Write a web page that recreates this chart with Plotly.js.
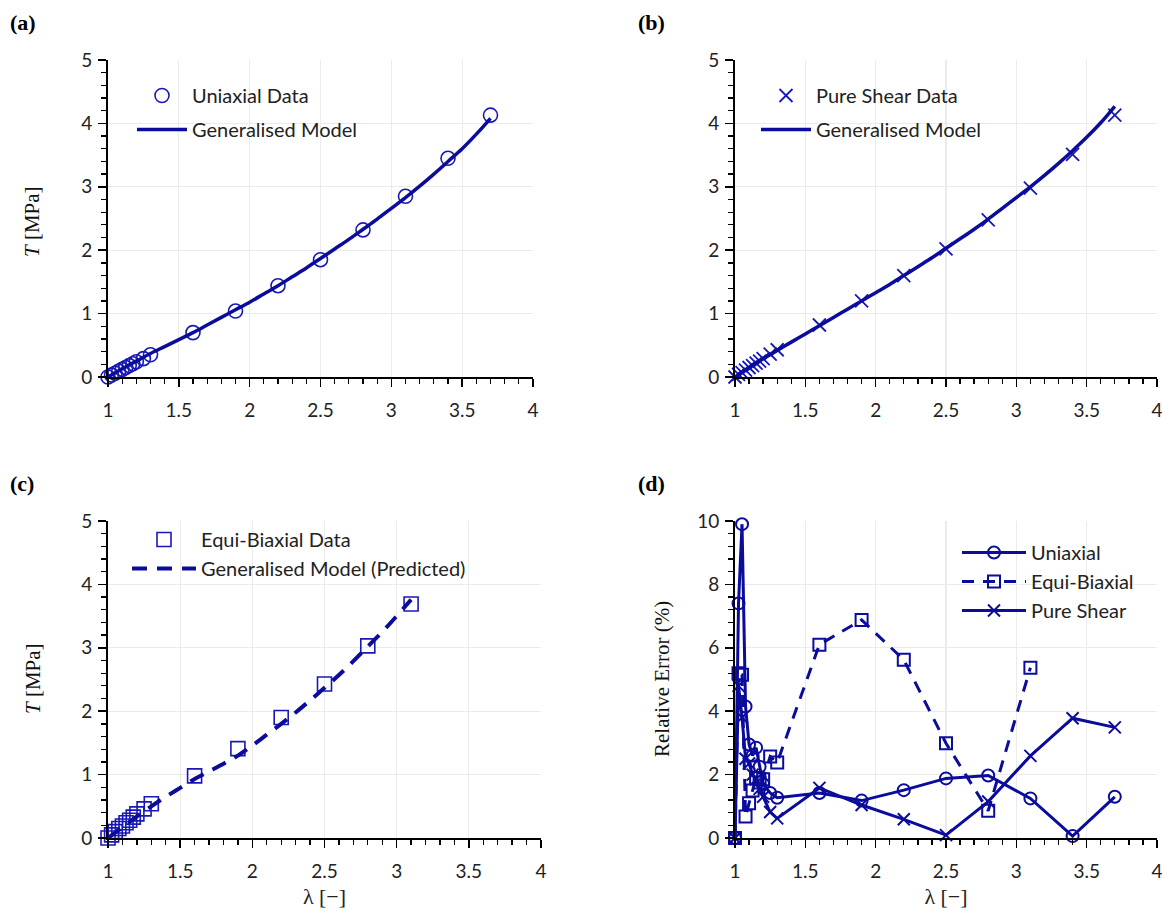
<!DOCTYPE html>
<html>
<head>
<meta charset="utf-8">
<script src="https://cdn.plot.ly/plotly-3.0.1.min.js"></script>
<style>html,body{margin:0;padding:0;background:#fff;}#chart{width:1162px;height:911px;}</style>
</head>
<body>
<div id="chart"></div>
<script>
// ---------- data ----------
const lamUS = [1, 1.025, 1.05, 1.075, 1.1, 1.125, 1.15, 1.175, 1.2, 1.25, 1.3, 1.6, 1.9, 2.2, 2.5, 2.8, 3.1, 3.4, 3.7];
const lamEB = [1, 1.025, 1.05, 1.075, 1.1, 1.125, 1.15, 1.175, 1.2, 1.25, 1.3, 1.6, 1.9, 2.2, 2.5, 2.8, 3.1];

const uniaxialData   = [0, 0.03, 0.06, 0.09, 0.12, 0.15, 0.18, 0.21, 0.24, 0.29, 0.35, 0.70, 1.04, 1.44, 1.85, 2.32, 2.85, 3.45, 4.13];
const pureShearData  = [0, 0.04, 0.07, 0.11, 0.15, 0.18, 0.22, 0.25, 0.29, 0.36, 0.43, 0.82, 1.20, 1.60, 2.02, 2.48, 2.98, 3.51, 4.13];
const biaxialData    = [0, 0.05, 0.10, 0.15, 0.19, 0.24, 0.28, 0.33, 0.38, 0.46, 0.54, 0.98, 1.41, 1.90, 2.43, 3.03, 3.69];

const lamModelUS = [1, 1.1, 1.2, 1.3, 1.4, 1.5, 1.6, 1.7, 1.8, 1.9, 2.0, 2.1, 2.2, 2.3, 2.4, 2.5, 2.6, 2.7, 2.8, 2.9, 3.0, 3.1, 3.2, 3.3, 3.4, 3.5, 3.6, 3.7];
const uniaxialModel  = [0, 0.13, 0.25, 0.37, 0.48, 0.59, 0.70, 0.82, 0.94, 1.06, 1.18, 1.31, 1.44, 1.58, 1.72, 1.87, 2.02, 2.17, 2.33, 2.49, 2.66, 2.83, 3.01, 3.20, 3.40, 3.60, 3.83, 4.08];
const pureShearModel = [0, 0.15, 0.29, 0.42, 0.55, 0.68, 0.81, 0.94, 1.07, 1.20, 1.33, 1.46, 1.60, 1.74, 1.88, 2.03, 2.18, 2.33, 2.49, 2.66, 2.83, 3.00, 3.18, 3.37, 3.57, 3.78, 4.01, 4.27];
const lamModelEB = [1, 1.1, 1.2, 1.3, 1.4, 1.5, 1.6, 1.7, 1.8, 1.9, 2.0, 2.1, 2.2, 2.3, 2.4, 2.5, 2.6, 2.7, 2.8, 2.9, 3.0, 3.1];
const biaxialModel   = [0, 0.17, 0.34, 0.50, 0.65, 0.79, 0.93, 1.05, 1.17, 1.30, 1.46, 1.63, 1.80, 1.98, 2.17, 2.37, 2.57, 2.79, 3.02, 3.25, 3.50, 3.76];

const errUniaxial  = [0, 7.4, 9.9, 4.15, 2.95, 2.6, 2.85, 2.25, 1.7, 1.42, 1.27, 1.42, 1.18, 1.51, 1.88, 1.97, 1.25, 0.06, 1.3];
const errBiaxial   = [0, 5.2, 5.15, 0.68, 1.1, 1.5, 1.9, 1.75, 1.85, 2.57, 2.38, 6.1, 6.88, 5.62, 2.99, 0.86, 5.37];
const errPureShear = [0, 4.8, 3.8, 2.5, 2.35, 2.0, 1.85, 1.55, 1.3, 0.82, 0.62, 1.58, 1.04, 0.59, 0.09, 1.15, 2.59, 3.78, 3.49];

const xTicks = [1, 1.5, 2, 2.5, 3, 3.5, 4];
const panelLabels = ['(a)', '(b)', '(c)', '(d)'];

// ---------- style ----------
const W = 1162, H = 911;
const LINE = '#0b0b9c';
const MARK = '#1818b8';
const TICKFONT = {family: 'Lato, "Open Sans", sans-serif', size: 19, color: '#222'};
const LEGFONT = {family: 'Lato, "Open Sans", sans-serif', size: 20, color: '#222'};
const SERIF = 'Liberation Serif, "DejaVu Serif", serif';

const px = v => v / W;
const py = v => 1 - v / H;

const traces = [
  {x: lamUS, y: uniaxialData, type: 'scatter', mode: 'markers', name: 'Uniaxial Data', xaxis: 'x', yaxis: 'y', legend: 'legend', legendgroup: 'a1',
   marker: {symbol: 'circle-open', size: 14, color: MARK, line: {width: 1.6, color: MARK}}},
  {x: lamModelUS, y: uniaxialModel, type: 'scatter', mode: 'lines', name: 'Generalised Model', xaxis: 'x', yaxis: 'y', legend: 'legend', legendgroup: 'a2',
   line: {color: LINE, width: 3.5, shape: 'spline'}},
  {x: lamUS, y: pureShearData, type: 'scatter', mode: 'markers', name: 'Pure Shear Data', xaxis: 'x2', yaxis: 'y2', legend: 'legend2', legendgroup: 'b1',
   marker: {symbol: 'x-thin-open', size: 13, color: MARK, line: {width: 1.8, color: MARK}}},
  {x: lamModelUS, y: pureShearModel, type: 'scatter', mode: 'lines', name: 'Generalised Model', xaxis: 'x2', yaxis: 'y2', legend: 'legend2', legendgroup: 'b2',
   line: {color: LINE, width: 3.5, shape: 'spline'}},
  {x: lamEB, y: biaxialData, type: 'scatter', mode: 'markers', name: 'Equi-Biaxial Data', xaxis: 'x3', yaxis: 'y3', legend: 'legend3', legendgroup: 'c1',
   marker: {symbol: 'square-open', size: 14, color: MARK, line: {width: 1.6, color: MARK}}},
  {x: lamModelEB, y: biaxialModel, type: 'scatter', mode: 'lines', name: 'Generalised Model (Predicted)', xaxis: 'x3', yaxis: 'y3', legend: 'legend3', legendgroup: 'c2',
   line: {color: LINE, width: 4, dash: '15px,10px', shape: 'spline'}},
  {x: lamUS, y: errUniaxial, type: 'scatter', mode: 'lines+markers', name: 'Uniaxial', xaxis: 'x4', yaxis: 'y4', legend: 'legend4', legendgroup: 'd1',
   line: {color: LINE, width: 3}, marker: {symbol: 'circle-open', size: 12, color: LINE, line: {width: 2, color: LINE}}},
  {x: lamEB, y: errBiaxial, type: 'scatter', mode: 'lines+markers', name: 'Equi-Biaxial', xaxis: 'x4', yaxis: 'y4', legend: 'legend4', legendgroup: 'd2',
   line: {color: LINE, width: 3, dash: '12px,9px'}, marker: {symbol: 'square-open', size: 12, color: LINE, line: {width: 2, color: LINE}}},
  {x: lamUS, y: errPureShear, type: 'scatter', mode: 'lines+markers', name: 'Pure Shear', xaxis: 'x4', yaxis: 'y4', legend: 'legend4', legendgroup: 'd3',
   line: {color: LINE, width: 3}, marker: {symbol: 'x-thin-open', size: 12, color: LINE, line: {width: 2, color: LINE}}}
].map(t => Object.assign({cliponaxis: false}, t));

function xAx(domain, anchor) {
  return {domain: domain, anchor: anchor, range: [1, 4], tickvals: xTicks, ticks: 'outside', ticklen: 8, tickwidth: 1.5, tickcolor: '#000',
    showline: true, linecolor: '#000', linewidth: 2, showgrid: true, gridcolor: '#ebebeb', gridwidth: 1.2, zeroline: false,
    tickfont: TICKFONT, ticklabelstandoff: 7, ticklabeloverflow: 'allow',
    minor: {dtick: 0.1, ticks: 'outside', ticklen: 5, tickwidth: 1.3, tickcolor: '#000', showgrid: false}};
}
function yAx(domain, anchor, top, dt, mdt) {
  return {domain: domain, anchor: anchor, range: [0, top], dtick: dt, tick0: 0, ticks: 'outside', ticklen: 8, tickwidth: 1.5, tickcolor: '#000',
    showline: true, linecolor: '#000', linewidth: 2, showgrid: true, gridcolor: '#ebebeb', gridwidth: 1.2, zeroline: false,
    tickfont: TICKFONT, ticklabelstandoff: 2, ticklabeloverflow: 'allow',
    minor: {dtick: mdt, tick0: 0, ticks: 'outside', ticklen: 5, tickwidth: 1.3, tickcolor: '#000', showgrid: false}};
}
function xIn(over, anchor, domain) {
  return {overlaying: over, anchor: anchor, domain: domain, range: [1, 4], tickvals: xTicks, ticks: 'inside', ticklen: 8, tickwidth: 1.5, tickcolor: '#000',
    showticklabels: false, showgrid: false, showline: false, zeroline: false};
}
function yIn(over, anchor, domain, top, dt) {
  return {overlaying: over, anchor: anchor, domain: domain, range: [0, top], dtick: dt, tick0: 0, ticks: 'inside', ticklen: 8, tickwidth: 1.5, tickcolor: '#000',
    showticklabels: false, showgrid: false, showline: false, zeroline: false};
}

const dAx = [px(108), px(533)];
const dBx = [px(735), px(1157)];
const dCx = [px(108), px(541)];
const dTop = [py(377), py(60)];
const dBot = [py(838), py(521)];

const legBase = {bgcolor: 'rgba(0,0,0,0)', borderwidth: 0, font: LEGFONT, xanchor: 'left', yanchor: 'top', itemwidth: 50, traceorder: 'grouped', tracegroupgap: 5, xref: 'paper', yref: 'paper'};

const annFont = {family: SERIF, size: 21, color: '#111'};
const annotations = [
  {text: '<b>' + panelLabels[0] + '</b>', x: px(8), y: py(23), xanchor: 'left', yanchor: 'middle'},
  {text: '<b>' + panelLabels[1] + '</b>', x: px(636), y: py(23), xanchor: 'left', yanchor: 'middle'},
  {text: '<b>' + panelLabels[2] + '</b>', x: px(8), y: py(483), xanchor: 'left', yanchor: 'middle'},
  {text: '<b>' + panelLabels[3] + '</b>', x: px(636), y: py(483), xanchor: 'left', yanchor: 'middle'},
].map(a => Object.assign({xref: 'paper', yref: 'paper', showarrow: false, font: {family: SERIF, size: 22, color: '#000'}}, a));

const layout = {
  width: W, height: H, margin: {l: 0, r: 0, t: 0, b: 0}, paper_bgcolor: '#fff', plot_bgcolor: '#fff',
  showlegend: true,
  xaxis: xAx(dAx, 'y'), yaxis: yAx(dTop, 'x', 5, 1, 0.2),
  xaxis2: xAx(dBx, 'y2'), yaxis2: yAx(dTop, 'x2', 5, 1, 0.2),
  xaxis3: Object.assign(xAx(dCx, 'y3'), {title: {text: 'λ [−]', font: {family: SERIF, size: 22, color: '#222'}, standoff: 8}}),
  yaxis3: yAx(dBot, 'x3', 5, 1, 0.2),
  xaxis4: Object.assign(xAx(dBx, 'y4'), {title: {text: 'λ [−]', font: {family: SERIF, size: 22, color: '#222'}, standoff: 8}}),
  yaxis4: yAx(dBot, 'x4', 10, 2, 0.4),
  xaxis5: xIn('x', 'y', dAx), yaxis5: yIn('y', 'x', dTop, 5, 1),
  xaxis6: xIn('x2', 'y2', dBx), yaxis6: yIn('y2', 'x2', dTop, 5, 1),
  xaxis7: xIn('x3', 'y3', dCx), yaxis7: yIn('y3', 'x3', dBot, 5, 1),
  xaxis8: xIn('x4', 'y4', dBx), yaxis8: yIn('y4', 'x4', dBot, 10, 2),
  legend:  Object.assign({}, legBase, {x: px(132), y: py(76)}),
  legend2: Object.assign({}, legBase, {x: px(756), y: py(76)}),
  legend3: Object.assign({}, legBase, {x: px(127), y: py(520), itemwidth: 64, tracegroupgap: 0}),
  legend4: Object.assign({}, legBase, {x: px(957), y: py(533), itemwidth: 64, tracegroupgap: 0}),
  annotations: annotations.concat([
    {text: '<i>T</i> [MPa]', x: px(32), y: py(222), textangle: -90},
    {text: '<i>T</i> [MPa]', x: px(33), y: py(679), textangle: -90},
    {text: 'Relative Error (%)', x: px(662), y: py(679), textangle: -90},
  ].map(a => Object.assign({xref: 'paper', yref: 'paper', showarrow: false, xanchor: 'center', yanchor: 'middle', font: annFont}, a)))
};

Plotly.newPlot('chart', traces, layout, {displayModeBar: false, staticPlot: true});
</script>
</body>
</html>
